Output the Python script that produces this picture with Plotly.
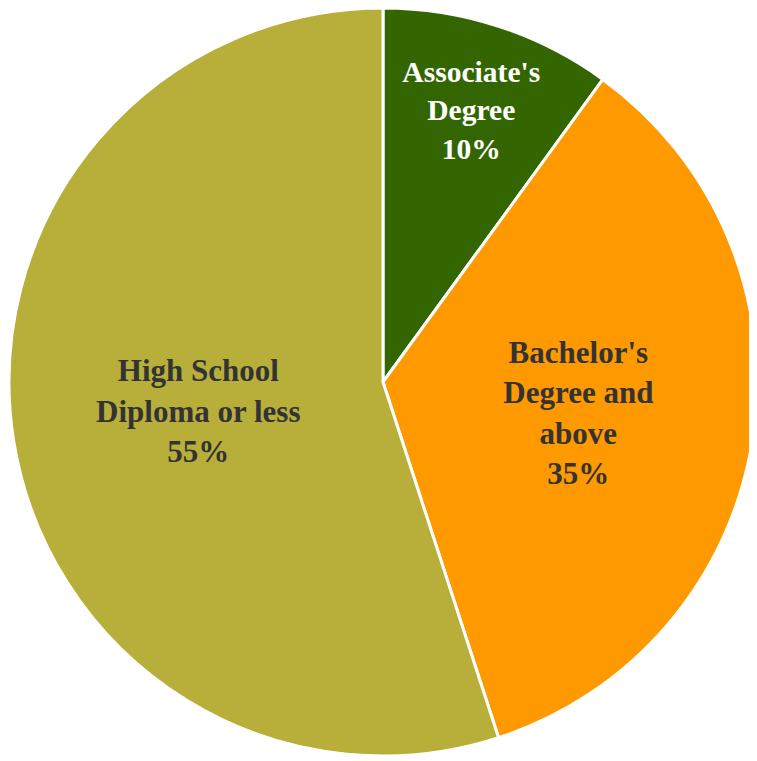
import plotly.graph_objects as go

labels = ["Associate's<br>Degree", "Bachelor's<br>Degree and<br>above", "High School<br>Diploma or less"]
values = [10, 35, 55]
colors = ["#336600", "#FF9900", "#B8AF3A"]
text_colors = ["#FFFFFF", "#333333", "#333333"]

fig = go.Figure(go.Pie(
    labels=labels,
    values=values,
    sort=False,
    direction="clockwise",
    rotation=0,
    marker=dict(colors=colors, line=dict(color="#FFFFFF", width=3)),
    textinfo="label+percent",
    textposition="inside",
    insidetextorientation="horizontal",
    insidetextfont=dict(family="Liberation Serif", size=31, color=text_colors, weight="bold"),
    showlegend=False,
    hoverinfo="label+percent",
))

fig.update_layout(
    width=749, height=753,
    margin=dict(l=1, r=0, t=0, b=5),
    paper_bgcolor="#FFFFFF",
    plot_bgcolor="#FFFFFF",
)

fig.write_html("out.html")
